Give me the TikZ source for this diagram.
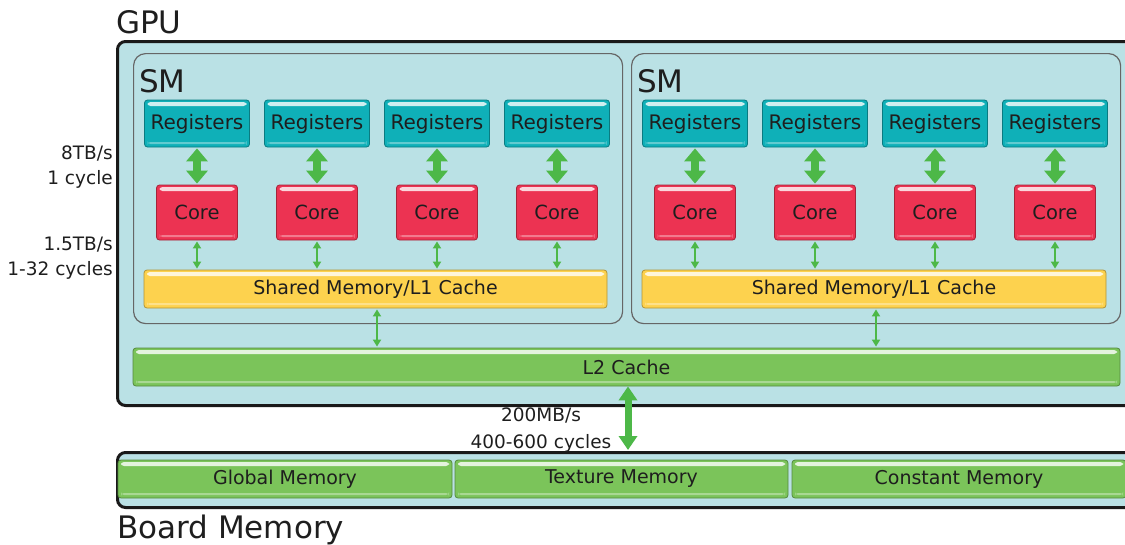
\documentclass[tikz,border=0pt]{standalone}
\usepackage{fontspec}
\setmainfont{DejaVu Sans}
\usetikzlibrary{arrows.meta}
\definecolor{bgblue}{HTML}{BAE1E5}
\definecolor{regc}{HTML}{0FB0B8}
\definecolor{corec}{HTML}{EC3352}
\definecolor{shc}{HTML}{FDD24E}
\definecolor{grc}{HTML}{7BC45A}
\definecolor{arrc}{HTML}{4DB848}
\definecolor{txt}{HTML}{1E1E1E}
\begin{document}
\begin{tikzpicture}[x=1pt,y=-1pt,
  every node/.style={inner sep=0pt,text=txt},
  gloss/.style={path picture={
    \fill[white,opacity=.8] ([xshift=3pt,yshift=-2pt]path picture bounding box.north west) rectangle ([xshift=-3pt,yshift=-6pt]path picture bounding box.north east);
    \fill[white,opacity=.35] ([xshift=3pt,yshift=3pt]path picture bounding box.south west) rectangle ([xshift=-3pt,yshift=5pt]path picture bounding box.south east);}},
  unit/.style={draw=#1!70!black,fill=#1,line width=0.8pt,rounded corners=3pt,gloss},
  regbox/.style={unit=regc,minimum width=105pt,minimum height=47pt,font=\fontsize{20}{24}\selectfont},
  corebox/.style={unit=corec,minimum width=81pt,minimum height=55pt,font=\fontsize{19.5}{24}\selectfont},
  barbox/.style={unit=#1,minimum height=38pt,font=\fontsize{19}{23}\selectfont},
  outer/.style={draw=black!90,fill=bgblue,line width=3pt,rounded corners=8pt,anchor=north west},
  smbox/.style={draw=black!60,line width=1.2pt,rounded corners=12pt,anchor=north west,minimum width=489pt,minimum height=270pt},
  bigarrow/.style={draw=arrc,line width=8pt,{Triangle[length=13pt,width=21pt]}-{Triangle[length=13pt,width=21pt]},shorten <=1pt,shorten >=1pt},
  thinarrow/.style={draw=arrc,line width=2.5pt,{Triangle[length=7pt,width=8pt]}-{Triangle[length=7pt,width=8pt]},shorten <=1pt,shorten >=1pt},
  biglabel/.style={anchor=base west,font=\fontsize{31}{36}\selectfont},
  sidelabel/.style={anchor=base east,font=\fontsize{18.5}{22}\selectfont}
]
\useasboundingbox (0,0) rectangle (1125,544);
\clip (0,0) rectangle (1125,544);

% containers
\node[outer,minimum width=1030pt,minimum height=364pt] (gpu) at (116,40) {};
\node[outer,minimum width=1030pt,minimum height=55pt] (board) at (116,451) {};
\node[smbox] (sm1) at (133,53) {};
\node[smbox] (sm2) at (631,53) {};

% titles
\node[biglabel] (gputitle) at (116,33) {GPU};
\node[biglabel] (boardtitle) at (117,538) {Board Memory};
\node[biglabel] (smtitle1) at (139,92) {SM};
\node[biglabel] (smtitle2) at (637,92) {SM};

% registers and cores
\foreach \x [count=\i] in {197,317,437,557,695,815,935,1055} {
  \node[regbox] (reg\i) at (\x,123.5) {Registers};
  \node[corebox] (core\i) at (\x,212.5) {Core};
  \draw[bigarrow] (reg\i.south) -- (core\i.north);
}

% shared memory
\node[barbox=shc,minimum width=463pt] (sh1) at (375.5,289) {Shared Memory/L1 Cache};
\node[barbox=shc,minimum width=464pt] (sh2) at (874,289) {Shared Memory/L1 Cache};
\foreach \i in {1,2,3,4} \draw[thinarrow] (core\i.south) -- (core\i.south |- sh1.north);
\foreach \i in {5,6,7,8} \draw[thinarrow] (core\i.south) -- (core\i.south |- sh2.north);

% L2
\node[barbox=grc,minimum width=987pt] (l2) at (626.5,367) {L2 Cache};
\coordinate (a1) at (377,0);
\coordinate (a2) at (876,0);
\draw[thinarrow] (a1 |- sh1.south) -- (a1 |- l2.north);
\draw[thinarrow] (a2 |- sh2.south) -- (a2 |- l2.north);

% board memories
\node[barbox=grc,minimum width=334pt] (gm) at (285,479) {Global Memory};
\node[barbox=grc,minimum width=333pt] (tm) at (621.5,479) {Texture Memory};
\node[barbox=grc,minimum width=334pt] (cm) at (959,479) {Constant Memory};

\coordinate (a3) at (628,0);
\draw[draw=arrc,line width=7pt,{Triangle[length=14pt,width=18pt]}-{Triangle[length=14pt,width=18pt]}] (a3 |- l2.south) -- ([yshift=1pt]a3 |- board.north);

% bandwidth labels
\node[anchor=base,font=\fontsize{18.5}{22}\selectfont] (bw3) at (541,421) {200MB/s};
\node[anchor=base,font=\fontsize{18.5}{22}\selectfont] (lat3) at (541,448) {400-600 cycles};
\node[sidelabel] (bw1) at (113,159) {8TB/s};
\node[sidelabel] (lat1) at (113,184) {1 cycle};
\node[sidelabel] (bw2) at (113,250) {1.5TB/s};
\node[sidelabel] (lat2) at (113,275) {1-32 cycles};
\end{tikzpicture}
\end{document}
